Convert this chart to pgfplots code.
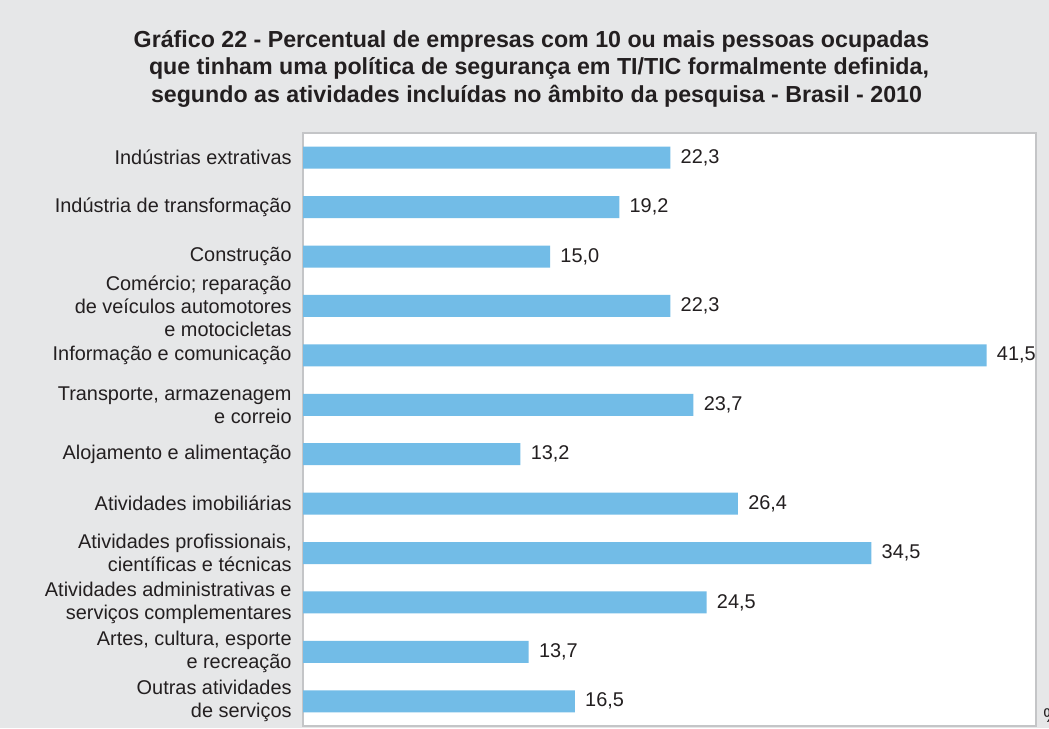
\documentclass[border=0pt]{standalone}
\usepackage{pgfplots}
\pgfplotsset{compat=1.18}
\usepackage{fontspec}
\setmainfont{Liberation Sans}
\definecolor{bg}{HTML}{E6E7E8}
\definecolor{barblue}{HTML}{72BCE7}
\definecolor{txt}{HTML}{231F20}
\definecolor{boxline}{HTML}{C4C5C7}

\begin{document}
\begin{tikzpicture}[x=1pt,y=1pt]
\fill[bg] (0,0) rectangle (524.5,364);
\useasboundingbox (0,0) rectangle (524.5,364);
\coordinate (axsw) at (151.5,1);
% title, one node per line
\begin{scope}[every node/.style={anchor=base, text=txt, inner sep=0pt,
    font=\fontsize{11.6}{13.75}\selectfont\bfseries}]
\node at (265.75,340) {Gráfico 22 - Percentual de empresas com 10 ou mais pessoas ocupadas};
\node at (269.5,326.5) {que tinham uma política de segurança em TI/TIC formalmente definida,};
\node at (268.25,312.5) {segundo as atividades incluídas no âmbito da pesquisa - Brasil - 2010};
\end{scope}

\begin{axis}[
  at={(axsw)}, anchor=south west,
  scale only axis,
  width=366.5pt, height=296.5pt,
  xbar, bar width=11pt,
  xmin=0, xmax=44.5,
  ymin=-0.5, ymax=11.5,
  y dir=reverse,
  xtick=\empty,
  ytick={0,...,11},
  yticklabels={
    Indústrias extrativas,
    Indústria de transformação,
    Construção,
    {Comércio; reparação\\de veículos automotores\\e motocicletas},
    Informação e comunicação,
    {Transporte, armazenagem\\e correio},
    Alojamento e alimentação,
    Atividades imobiliárias,
    {Atividades profissionais,\\científicas e técnicas},
    {Atividades administrativas e\\serviços complementares},
    {Artes, cultura, esporte\\e recreação},
    {Outras atividades\\de serviços}},
  major tick length=0pt,
  axis background/.style={fill=white},
  axis line style={draw=boxline, line width=0.8pt},
  yticklabel style={align=right, text=txt, inner sep=0pt, xshift=-5.5pt,
    font=\fontsize{9.95}{11.5}\selectfont},
  point meta=x,
  nodes near coords,
  nodes near coords style={anchor=west, inner sep=0pt, xshift=5pt, text=txt,
    font=\fontsize{9.95}{11.5}\selectfont},
  /pgf/number format/.cd, use comma, fixed, fixed zerofill, precision=1,
  assume math mode=true
]
\addplot[draw=none, fill=barblue] coordinates {
  (22.3,0) (19.2,1) (15.0,2) (22.3,3) (41.5,4) (23.7,5)
  (13.2,6) (26.4,7) (34.5,8) (24.5,9) (13.7,10) (16.5,11)};
\end{axis}

\node[anchor=base west, inner sep=0pt, text=txt, font=\fontsize{9.95}{11.5}\selectfont] at (521.5,3) {\%};
\end{tikzpicture}
\end{document}
